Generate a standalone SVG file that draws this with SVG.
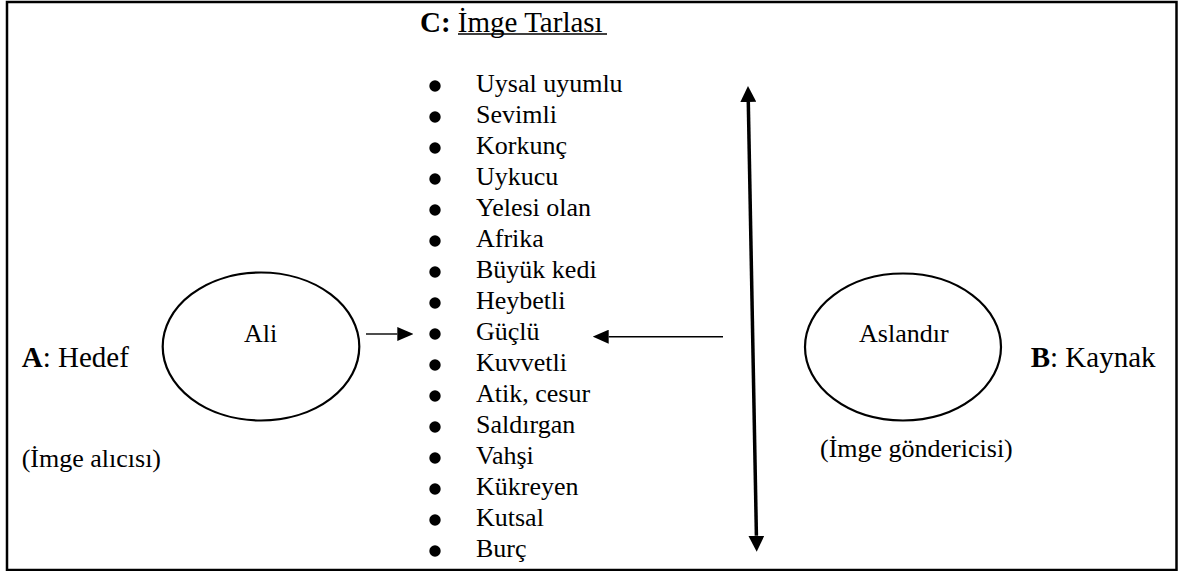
<svg xmlns="http://www.w3.org/2000/svg" width="1178" height="571" viewBox="0 0 1178 571">
  <style>
    text { font-family: "Liberation Serif", "Times New Roman", serif; fill: #000; }
    .item { font-size: 26px; }
    .node-label { font-size: 26px; }
    .side { font-size: 29px; }
    .note { font-size: 26px; }
    .title { font-size: 29px; }
    .b { font-weight: bold; }
    .shape { fill: #fff; stroke: #000; stroke-width: 2.2; }
    .conn { stroke: #000; fill: none; }
    .thin { stroke-width: 1.4; }
    .thick { stroke-width: 3.5; }
    .bullet { fill: #000; }
  </style>
  <defs>
    <marker id="headSmall" viewBox="0 0 16 14" refX="0" refY="7" markerWidth="16" markerHeight="14" markerUnits="userSpaceOnUse" orient="auto-start-reverse">
      <path d="M0,0 L16,7 L0,14 z" fill="#000"/>
    </marker>
    <marker id="headBig" viewBox="0 0 16 16" refX="0" refY="8" markerWidth="16" markerHeight="16" markerUnits="userSpaceOnUse" orient="auto-start-reverse">
      <path d="M0,0 L16,8 L0,16 z" fill="#000"/>
    </marker>
  </defs>

  <rect id="frame" x="7" y="2" width="1169.5" height="568" fill="#fff" stroke="#000" stroke-width="2.5"/>

  <g id="field">
    <text class="title" x="420" y="32"><tspan class="b">C:</tspan> İmge Tarlası</text>
    <line x1="458" y1="34" x2="607" y2="34" stroke="#000" stroke-width="1.5"/>
    <g id="bullets">
      <circle class="bullet" cx="435" cy="86" r="5.7"/>
      <circle class="bullet" cx="435" cy="117" r="5.7"/>
      <circle class="bullet" cx="435" cy="148" r="5.7"/>
      <circle class="bullet" cx="435" cy="179" r="5.7"/>
      <circle class="bullet" cx="435" cy="210" r="5.7"/>
      <circle class="bullet" cx="435" cy="241" r="5.7"/>
      <circle class="bullet" cx="435" cy="272" r="5.7"/>
      <circle class="bullet" cx="435" cy="303" r="5.7"/>
      <circle class="bullet" cx="435" cy="334" r="5.7"/>
      <circle class="bullet" cx="435" cy="365" r="5.7"/>
      <circle class="bullet" cx="435" cy="396" r="5.7"/>
      <circle class="bullet" cx="435" cy="427" r="5.7"/>
      <circle class="bullet" cx="435" cy="458" r="5.7"/>
      <circle class="bullet" cx="435" cy="489" r="5.7"/>
      <circle class="bullet" cx="435" cy="520" r="5.7"/>
      <circle class="bullet" cx="435" cy="551" r="5.7"/>
    </g>
    <text class="item" x="476" y="92">Uysal uyumlu</text>
    <text class="item" x="476" y="123">Sevimli</text>
    <text class="item" x="476" y="154">Korkunç</text>
    <text class="item" x="476" y="185">Uykucu</text>
    <text class="item" x="476" y="216">Yelesi olan</text>
    <text class="item" x="476" y="247">Afrika</text>
    <text class="item" x="476" y="278">Büyük kedi</text>
    <text class="item" x="476" y="309">Heybetli</text>
    <text class="item" x="476" y="340">Güçlü</text>
    <text class="item" x="476" y="371">Kuvvetli</text>
    <text class="item" x="476" y="402">Atik, cesur</text>
    <text class="item" x="476" y="433">Saldırgan</text>
    <text class="item" x="476" y="464">Vahşi</text>
    <text class="item" x="476" y="495">Kükreyen</text>
    <text class="item" x="476" y="526">Kutsal</text>
    <text class="item" x="476" y="557">Burç</text>
  </g>

  <g id="target">
    <ellipse class="shape" cx="261" cy="346.5" rx="98.3" ry="74"/>
    <text class="node-label" x="260.5" y="341.5" text-anchor="middle">Ali</text>
  </g>

  <g id="source">
    <ellipse class="shape" cx="903" cy="347" rx="98" ry="73.5"/>
    <text class="node-label" x="903.8" y="342" text-anchor="middle">Aslandır</text>
  </g>

  <g id="label-a">
    <text class="side" x="21.7" y="367"><tspan class="b">A</tspan>: Hedef</text>
    <text class="note" x="21.7" y="466.5">(İmge alıcısı)</text>
  </g>

  <g id="label-b">
    <text class="side" x="1030.7" y="367"><tspan class="b">B</tspan>: Kaynak</text>
    <text class="note" x="820" y="456.5">(İmge göndericisi)</text>
  </g>

  <g id="connectors">
    <line class="conn thin" x1="366" y1="334" x2="397.3" y2="334" marker-end="url(#headSmall)"/>
    <line class="conn thin" x1="723" y1="336.7" x2="608.7" y2="336.7" marker-end="url(#headSmall)"/>
    <line class="conn thick" x1="748.3" y1="102" x2="756.4" y2="535.7" marker-start="url(#headBig)" marker-end="url(#headBig)"/>
  </g>
</svg>
